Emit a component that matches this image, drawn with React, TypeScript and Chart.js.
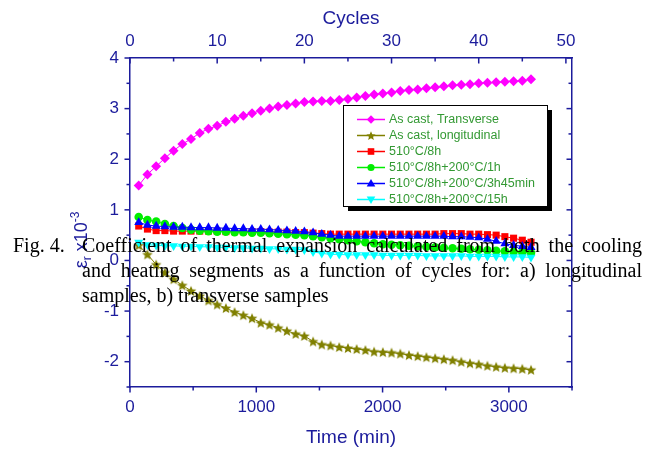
import React, { useEffect, useRef } from 'react';
import { Chart, registerables } from 'chart.js';

Chart.register(...registerables);

// ---------- data ----------
const cycles = [1, 2, 3, 4, 5, 6, 7, 8, 9, 10, 11, 12, 13, 14, 15, 16, 17, 18, 19, 20, 21, 22, 23, 24, 25, 26, 27, 28, 29, 30, 31, 32, 33, 34, 35, 36, 37, 38, 39, 40, 41, 42, 43, 44, 45, 46];

const asCastTransverse = [1.48, 1.70, 1.86, 2.02, 2.17, 2.30, 2.40, 2.52, 2.60, 2.66, 2.74, 2.80, 2.86, 2.91, 2.96, 3.00, 3.04, 3.07, 3.10, 3.13, 3.14, 3.15, 3.15, 3.17, 3.19, 3.22, 3.25, 3.28, 3.30, 3.32, 3.35, 3.37, 3.38, 3.40, 3.42, 3.44, 3.46, 3.47, 3.48, 3.50, 3.51, 3.52, 3.53, 3.54, 3.55, 3.58];
const asCastLongitudinal = [0.30, 0.12, -0.08, -0.24, -0.37, -0.49, -0.60, -0.70, -0.79, -0.87, -0.94, -1.02, -1.08, -1.14, -1.23, -1.27, -1.33, -1.39, -1.45, -1.49, -1.60, -1.66, -1.68, -1.71, -1.73, -1.75, -1.77, -1.80, -1.81, -1.82, -1.84, -1.87, -1.89, -1.91, -1.93, -1.95, -1.97, -2.00, -2.03, -2.05, -2.08, -2.10, -2.12, -2.13, -2.14, -2.16];
const t510_8h = [0.68, 0.62, 0.59, 0.59, 0.58, 0.58, 0.58, 0.58, 0.58, 0.58, 0.57, 0.57, 0.57, 0.57, 0.57, 0.56, 0.56, 0.56, 0.55, 0.55, 0.54, 0.53, 0.52, 0.52, 0.52, 0.52, 0.52, 0.52, 0.52, 0.52, 0.52, 0.52, 0.52, 0.52, 0.52, 0.53, 0.53, 0.53, 0.52, 0.52, 0.51, 0.50, 0.47, 0.44, 0.40, 0.36];
const t510_8h_200_1h = [0.86, 0.80, 0.77, 0.72, 0.68, 0.64, 0.61, 0.59, 0.58, 0.57, 0.57, 0.56, 0.56, 0.55, 0.55, 0.54, 0.53, 0.52, 0.51, 0.50, 0.48, 0.46, 0.44, 0.42, 0.40, 0.38, 0.36, 0.34, 0.32, 0.31, 0.30, 0.29, 0.28, 0.27, 0.26, 0.25, 0.24, 0.23, 0.22, 0.21, 0.20, 0.19, 0.18, 0.17, 0.16, 0.15];
const t510_8h_200_3h45 = [0.75, 0.70, 0.68, 0.67, 0.66, 0.66, 0.65, 0.65, 0.65, 0.64, 0.64, 0.63, 0.63, 0.62, 0.62, 0.61, 0.60, 0.59, 0.58, 0.57, 0.55, 0.52, 0.50, 0.48, 0.48, 0.48, 0.48, 0.48, 0.48, 0.48, 0.48, 0.48, 0.48, 0.48, 0.48, 0.48, 0.47, 0.47, 0.46, 0.45, 0.42, 0.38, 0.33, 0.30, 0.28, 0.26];
const t510_8h_200_15h = [0.36, 0.31, 0.30, 0.29, 0.29, 0.28, 0.28, 0.27, 0.27, 0.26, 0.26, 0.25, 0.25, 0.24, 0.24, 0.23, 0.23, 0.22, 0.22, 0.21, 0.17, 0.14, 0.12, 0.12, 0.11, 0.11, 0.11, 0.11, 0.10, 0.10, 0.10, 0.10, 0.10, 0.09, 0.09, 0.09, 0.09, 0.09, 0.08, 0.08, 0.08, 0.08, 0.07, 0.07, 0.07, 0.06];

const seriesLabels = ['As cast, Transverse', 'As cast, longitudinal', '510°C/8h', '510°C/8h+200°C/1h', '510°C/8h+200°C/3h45min', '510°C/8h+200°C/15h'];
const seriesValues = [asCastTransverse, asCastLongitudinal, t510_8h, t510_8h_200_1h, t510_8h_200_3h45, t510_8h_200_15h];
const seriesColors = ['#ff00ff', '#808000', '#ff0000', '#00ee00', '#0000ff', '#00ffff'];
const seriesMarkers = ['diamond', 'star', 'square', 'circle', 'triangle', 'invtriangle'];

const timeTicks = [0, 1000, 2000, 3000];
const cycleTicks = [0, 10, 20, 30, 40, 50];
const strainTicks = [-2, -1, 0, 1, 2, 3, 4];

const captionLabel = 'Fig. 4.';
const captionLines = [
  'Coefficient of thermal expansion calculated from both the cooling',
  'and heating segments as a function of cycles for: a) longitudinal',
  'samples, b) transverse samples',
];

const AXIS = '#1c1c9c';
const LEGEND_TEXT = '#339933';
const SANS = '"Liberation Sans", Arial, sans-serif';

function starPath(ctx: CanvasRenderingContext2D, cx: number, cy: number, R: number) {
  const r = R * 0.45;
  ctx.beginPath();
  for (let i = 0; i < 10; i++) {
    const a = -Math.PI / 2 + (i * Math.PI) / 5;
    const rad = i % 2 === 0 ? R : r;
    const px = cx + rad * Math.cos(a);
    const py = cy + rad * Math.sin(a);
    if (i === 0) ctx.moveTo(px, py);
    else ctx.lineTo(px, py);
  }
  ctx.closePath();
}

function makeStar(color: string, R: number) {
  const c = document.createElement('canvas');
  const s = 12;
  c.width = s;
  c.height = s;
  const g = c.getContext('2d')!;
  starPath(g, s / 2, s / 2 + 0.5, R);
  g.fillStyle = color;
  g.fill();
  return c;
}

function drawMarker(ctx: CanvasRenderingContext2D, kind: string, x: number, y: number, color: string) {
  ctx.fillStyle = color;
  ctx.beginPath();
  if (kind === 'diamond') {
    const r = 4.2;
    ctx.moveTo(x, y - r); ctx.lineTo(x + r, y); ctx.lineTo(x, y + r); ctx.lineTo(x - r, y); ctx.closePath();
  } else if (kind === 'star') {
    starPath(ctx, x, y + 0.5, 4.8);
  } else if (kind === 'square') {
    ctx.rect(x - 3.3, y - 3.3, 6.6, 6.6);
  } else if (kind === 'circle') {
    ctx.arc(x, y, 3.6, 0, Math.PI * 2);
  } else if (kind === 'triangle') {
    ctx.moveTo(x, y - 4.5); ctx.lineTo(x + 4.3, y + 3); ctx.lineTo(x - 4.3, y + 3); ctx.closePath();
  } else {
    ctx.moveTo(x, y + 4.5); ctx.lineTo(x + 4.3, y - 3); ctx.lineTo(x - 4.3, y - 3); ctx.closePath();
  }
  ctx.fill();
}

export default function App() {
  const ref = useRef<HTMLCanvasElement>(null);

  useEffect(() => {
    const canvas = ref.current!;
    const star = makeStar('#808000', 5.6);

    const pointStyleFor = (m: string): any => {
      if (m === 'diamond') return 'rectRot';
      if (m === 'star') return star;
      if (m === 'square') return 'rect';
      if (m === 'circle') return 'circle';
      return 'triangle';
    };
    const radiusFor = (m: string) => {
      if (m === 'diamond') return 5;
      if (m === 'square') return 5;
      if (m === 'circle') return 4.3;
      return 5.2;
    };

    const datasets = seriesValues.map((vals, i) => ({
      label: seriesLabels[i],
      data: vals.map((v, k) => ({ x: cycles[k], y: v })),
      xAxisID: 'x2',
      yAxisID: 'y',
      borderColor: seriesColors[i],
      backgroundColor: seriesColors[i],
      pointBackgroundColor: seriesColors[i],
      pointBorderWidth: 0,
      borderWidth: 1,
      pointStyle: pointStyleFor(seriesMarkers[i]),
      pointRotation: seriesMarkers[i] === 'invtriangle' ? 180 : 0,
      pointRadius: radiusFor(seriesMarkers[i]),
      tension: 0,
      order: seriesValues.length - i,
    }));

    const tickPlugin = {
      id: 'manualTicks',
      afterDraw(chart: any) {
        const ctx = chart.ctx as CanvasRenderingContext2D;
        const sx = chart.scales.x;
        const st = chart.scales.x2;
        const sy = chart.scales.y;
        const ca = chart.chartArea;
        ctx.save();
        ctx.strokeStyle = AXIS;
        ctx.lineWidth = 1.5;
        const seg = (a: number, b: number, c: number, d: number) => {
          ctx.beginPath(); ctx.moveTo(a, b); ctx.lineTo(c, d); ctx.stroke();
        };
        for (let v = 0; v <= 3500; v += 500) {
          const p = sx.getPixelForValue(v);
          seg(p, ca.bottom, p, ca.bottom + (v % 1000 === 0 ? 5.5 : 3.5));
        }
        for (let v = 0; v <= 50; v += 5) {
          const p = st.getPixelForValue(v);
          seg(p, ca.top, p, ca.top + (v % 10 === 0 ? 5.5 : 3.5));
        }
        for (let v = -2.5; v <= 4; v += 0.5) {
          const p = sy.getPixelForValue(v);
          const major = Number.isInteger(v);
          seg(ca.left, p, ca.left - (major ? 5.5 : 3.5), p);
          seg(ca.right, p, ca.right - (major ? 5.5 : 3.5), p);
        }
        ctx.restore();

        // y title: ε_r x10^-3, rotated
        ctx.save();
        ctx.translate(87, 240);
        ctx.rotate(-Math.PI / 2);
        ctx.fillStyle = AXIS;
        ctx.textBaseline = 'alphabetic';
        const big = `18px ${SANS}`;
        const small = `12px ${SANS}`;
        const parts: [string, string, number][] = [
          ['ε', big, 0],
          ['r', small, 4],
          [' x10', big, 0],
          ['-3', small, -8],
        ];
        let total = 0;
        for (const [t, f] of parts) { ctx.font = f; total += ctx.measureText(t).width; }
        let cx = -total / 2;
        for (const [t, f, dy] of parts) {
          ctx.font = f;
          ctx.fillText(t, cx, dy);
          cx += ctx.measureText(t).width;
        }
        ctx.restore();

        // legend box
        const lx = 343, ly = 105, lw = 204, lh = 101;
        ctx.save();
        ctx.fillStyle = '#000';
        ctx.fillRect(lx + 5, ly + 5, lw, lh);
        ctx.fillStyle = '#fff';
        ctx.fillRect(lx, ly, lw, lh);
        ctx.strokeStyle = '#000';
        ctx.lineWidth = 1;
        ctx.strokeRect(lx + 0.5, ly + 0.5, lw, lh);
        chart.data.datasets.forEach((ds: any, i: number) => {
          const yy = 119.5 + i * 16;
          ctx.strokeStyle = seriesColors[i];
          ctx.lineWidth = 1.5;
          ctx.beginPath(); ctx.moveTo(357, yy); ctx.lineTo(385, yy); ctx.stroke();
          drawMarker(ctx, seriesMarkers[i], 371, yy, seriesColors[i]);
          ctx.fillStyle = LEGEND_TEXT;
          ctx.font = `12.5px ${SANS}`;
          ctx.textBaseline = 'middle';
          ctx.textAlign = 'left';
          ctx.fillText(ds.label, 389, yy + 0.5);
        });
        ctx.restore();
      },
    };

    const tickFont = { family: SANS, size: 17 };
    const titleFont = { family: SANS, size: 19 };

    const chart = new Chart(canvas, {
      type: 'line',
      data: { datasets: datasets as any },
      options: {
        responsive: false,
        animation: false,
        events: [],
        devicePixelRatio: 1,
        layout: { padding: 0 },
        plugins: { legend: { display: false }, tooltip: { enabled: false } },
        scales: {
          x: {
            type: 'linear',
            position: 'bottom',
            min: 0,
            max: 3500,
            afterBuildTicks: (s: any) => { s.ticks = timeTicks.map((v) => ({ value: v })); },
            afterFit: (s: any) => { s.height = 65; },
            grid: { display: false, drawTicks: false },
            border: { display: true, color: AXIS, width: 1.5 },
            ticks: { color: AXIS, font: tickFont, padding: 10, maxRotation: 0, callback: (v: any) => String(v) },
            title: { display: true, text: 'Time (min)', color: AXIS, font: titleFont, padding: { top: 0, bottom: 3 } },
          },
          x2: {
            type: 'linear',
            position: 'top',
            min: 0,
            max: 50.7,
            afterBuildTicks: (s: any) => { s.ticks = cycleTicks.map((v) => ({ value: v })); },
            afterFit: (s: any) => { s.height = 58; },
            grid: { display: false, drawTicks: false },
            border: { display: true, color: AXIS, width: 1.5 },
            ticks: { color: AXIS, font: tickFont, padding: 6, maxRotation: 0, callback: (v: any) => String(v) },
            title: { display: true, text: 'Cycles', color: AXIS, font: titleFont, padding: { top: 7, bottom: 0 } },
          },
          y: {
            type: 'linear',
            position: 'left',
            min: -2.5,
            max: 4,
            afterBuildTicks: (s: any) => { s.ticks = strainTicks.map((v) => ({ value: v })); },
            afterFit: (s: any) => { s.width = 130; },
            grid: { display: false, drawTicks: false },
            border: { display: true, color: AXIS, width: 1.5 },
            ticks: { color: AXIS, font: tickFont, padding: 11, callback: (v: any) => String(v) },
          },
          y2: {
            type: 'linear',
            position: 'right',
            min: -2.5,
            max: 4,
            afterFit: (s: any) => { s.width = 84; },
            grid: { display: false, drawTicks: false },
            border: { display: true, color: AXIS, width: 1.5 },
            ticks: { display: false },
          },
        },
      } as any,
      plugins: [tickPlugin],
    });
    return () => chart.destroy();
  }, []);

  const serif = '"Liberation Serif", "Times New Roman", serif';
  const lineStyle = (i: number, justify: boolean): React.CSSProperties => ({
    position: 'absolute',
    left: 82,
    top: 233 + i * 25,
    width: justify ? 560 : undefined,
    fontFamily: serif,
    fontSize: 20,
    lineHeight: '25px',
    color: '#000',
    whiteSpace: 'nowrap',
    textAlign: justify ? 'justify' : 'left',
    textAlignLast: justify ? 'justify' : 'left',
  } as React.CSSProperties);

  return (
    <div style={{ position: 'absolute', left: 0, top: 0, width: 656, height: 452, background: '#fff', overflow: 'hidden' }}>
      <canvas ref={ref} width={656} height={452} style={{ display: 'block', width: 656, height: 452 }} />
      <div style={{ position: 'absolute', left: 13, top: 233, fontFamily: serif, fontSize: 20, lineHeight: '25px', color: '#000', whiteSpace: 'nowrap' }}>{captionLabel}</div>
      {captionLines.map((t, i) => (
        <div key={i} style={lineStyle(i, i < captionLines.length - 1)}>{t}</div>
      ))}
    </div>
  );
}
